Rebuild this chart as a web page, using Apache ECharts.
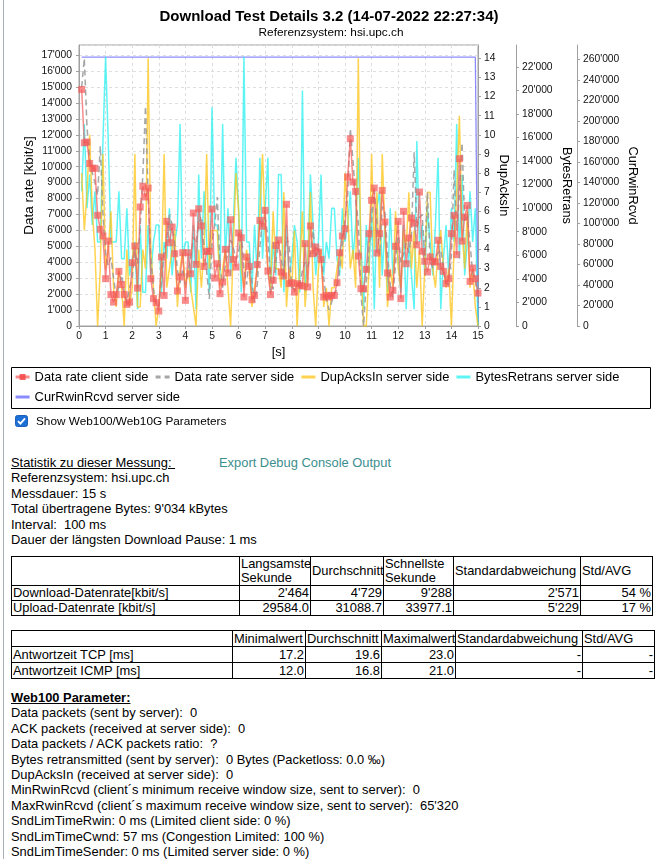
<!DOCTYPE html>
<html><head><meta charset="utf-8">
<script src="https://cdn.jsdelivr.net/npm/echarts@6/dist/echarts.min.js"></script>
<style>
html,body{margin:0;padding:0;background:#fff;}
body{width:662px;height:859px;position:relative;overflow:hidden;font-family:"Liberation Sans",Arial,sans-serif;color:#000;}
#chart{position:absolute;left:0;top:0;width:662px;height:440px;}
#frame{position:absolute;left:3px;top:0;width:1px;height:859px;background:#a9afb5;}
.txt{position:absolute;left:11px;font-size:12.9px;line-height:15.4px;white-space:pre;}
.u{text-decoration:underline;}
.link{position:absolute;left:208px;top:0;color:#3b8e8e;}
#cb{position:absolute;left:15px;top:415px;width:13px;height:12px;}
#cbl{position:absolute;left:36px;top:413px;font-size:11.8px;line-height:16px;white-space:pre;}
table{position:absolute;left:11px;border-collapse:collapse;table-layout:fixed;font-size:12.9px;}
td{border:1px solid #000;padding:0 1px;white-space:nowrap;overflow:hidden;line-height:14px;height:14px;text-align:right;vertical-align:middle;}
td.l{text-align:left;}
tr.h td{text-align:left;}
#t2 td{height:15px;}
</style></head>
<body>
<div id="chart"></div>
<div id="frame"></div>
<svg id="cb" viewBox="0 0 13 12"><rect x="0.5" y="0.5" width="12" height="11" rx="2" fill="#1b6fd6" stroke="#1b5fb8"/><path d="M3 6.2 L5.4 8.6 L10 3.4" stroke="#fff" stroke-width="1.8" fill="none"/></svg>
<div id="cbl">Show Web100/Web10G Parameters</div>

<div class="txt" style="top:455px;"><span class="u">Statistik zu dieser Messung: </span><span class="link">Export Debug Console Output</span>
Referenzsystem: hsi.upc.ch
Messdauer: 15 s
Total übertragene Bytes: 9'034 kBytes
Interval:  100 ms
Dauer der längsten Download Pause: 1 ms</div>

<table style="top:556px;width:642px;">
<colgroup><col style="width:228px"><col style="width:71px"><col style="width:73px"><col style="width:70px"><col style="width:127px"><col style="width:72px"></colgroup>
<tr class="h"><td style="height:28px"></td><td>Langsamste<br>Sekunde</td><td>Durchschnitt</td><td>Schnellste<br>Sekunde</td><td>Standardabweichung</td><td>Std/AVG</td></tr>
<tr><td class="l">Download-Datenrate[kbit/s]</td><td>2'464</td><td>4'729</td><td>9'288</td><td>2'571</td><td>54 %</td></tr>
<tr><td class="l">Upload-Datenrate [kbit/s]</td><td>29584.0</td><td>31088.7</td><td>33977.1</td><td>5'229</td><td>17 %</td></tr>
</table>

<table id="t2" style="top:630px;width:642px;">
<colgroup><col style="width:221px"><col style="width:73px"><col style="width:76px"><col style="width:74px"><col style="width:127px"><col style="width:72px"></colgroup>
<tr class="h"><td></td><td>Minimalwert</td><td>Durchschnitt</td><td>Maximalwert</td><td>Standardabweichung</td><td>Std/AVG</td></tr>
<tr><td class="l">Antwortzeit TCP [ms]</td><td>17.2</td><td>19.6</td><td>23.0</td><td>-</td><td>-</td></tr>
<tr><td class="l">Antwortzeit ICMP [ms]</td><td>12.0</td><td>16.8</td><td>21.0</td><td>-</td><td>-</td></tr>
</table>

<div class="txt" style="top:690px;"><b class="u">Web100 Parameter:</b>
Data packets (sent by server):  0
ACK packets (received at server side):  0
Data packets / ACK packets ratio:  ?
Bytes retransmitted (sent by server):  0 Bytes (Packetloss: 0.0 ‰)
DupAcksIn (received at server side):  0
MinRwinRcvd (client´s minimum receive window size, sent to server):  0
MaxRwinRcvd (client´s maximum receive window size, sent to server):  65'320
SndLimTimeRwin: 0 ms (Limited client side: 0 %)
SndLimTimeCwnd: 57 ms (Congestion Limited: 100 %)
SndLimTimeSender: 0 ms (Limited server side: 0 %)</div>

<script>
const times = [
0.1,0.2,0.3,0.4,0.5,0.6,0.7,0.8,0.9,1.0,
1.1,1.2,1.3,1.4,1.5,1.6,1.7,1.8,1.9,2.0,
2.1,2.2,2.3,2.4,2.5,2.6,2.7,2.8,2.9,3.0,
3.1,3.2,3.3,3.4,3.5,3.6,3.7,3.8,3.9,4.0,
4.1,4.2,4.3,4.4,4.5,4.6,4.7,4.8,4.9,5.0,
5.1,5.2,5.3,5.4,5.5,5.6,5.7,5.8,5.9,6.0,
6.1,6.2,6.3,6.4,6.5,6.6,6.7,6.8,6.9,7.0,
7.1,7.2,7.3,7.4,7.5,7.6,7.7,7.8,7.9,8.0,
8.1,8.2,8.3,8.4,8.5,8.6,8.7,8.8,8.9,9.0,
9.1,9.2,9.3,9.4,9.5,9.6,9.7,9.8,9.9,10.0,
10.1,10.2,10.3,10.4,10.5,10.6,10.7,10.8,10.9,11.0,
11.1,11.2,11.3,11.4,11.5,11.6,11.7,11.8,11.9,12.0,
12.1,12.2,12.3,12.4,12.5,12.6,12.7,12.8,12.9,13.0,
13.1,13.2,13.3,13.4,13.5,13.6,13.7,13.8,13.9,14.0,
14.1,14.2,14.3,14.4,14.5,14.6,14.7,14.8,14.9,15.0];

const rateClient = [
14850,11500,11550,10200,9900,9900,6950,6070,5650,2970,
5330,1970,1500,1970,3430,2600,1970,1360,1500,3970,
5020,2380,7470,8770,8100,8660,2970,1720,1460,940,
4330,1920,6570,5230,6210,4540,2200,3080,4600,1610,
4600,3280,7090,3870,7360,6280,3740,4690,4690,7340,
3010,3910,2030,2760,4810,3330,6670,4180,3700,5840,
5540,1820,4330,3740,1650,1920,3850,6630,6260,7260,
3450,1970,2870,5060,5400,3390,3140,7640,2660,2720,
2130,2660,2550,2510,5170,2450,6280,4540,4960,4640,
4180,1820,1920,1820,1920,1920,2720,4600,5650,6100,
9350,11760,9040,8450,4390,2340,2340,3560,5800,7890,
8660,4580,5800,8510,6530,3330,1820,2240,5000,6570,
1720,7200,3910,5520,6780,6460,5100,8410,4690,4060,
3390,4330,4060,4020,5380,3740,3430,2660,2970,5800,
6950,4480,10500,5330,6840,7570,2800,3640,2970,2070];

const rateServer = [
15000,16800,12500,10500,9600,9000,8200,11300,7000,4500,
3800,4300,3000,1800,2500,3200,2200,1500,2400,3000,
4700,3900,6200,9500,13800,8200,4300,2300,1300,1200,
2800,4600,5500,7000,6400,5200,3500,2700,3600,2600,
3500,4400,5600,5200,6500,6900,5000,3400,1700,5200,
6300,8100,3700,2400,3800,4600,5400,4900,4200,4600,
5900,3600,2600,4300,2800,1500,2600,5000,6700,6800,
5600,2900,2300,4000,5300,4300,3000,5600,5000,2400,
2300,2500,2600,3500,4000,3700,4600,6000,4400,4900,
4400,3000,1700,1000,1500,2000,2300,3600,5000,6700,
8200,12400,10400,8000,6500,2000,0,2800,4800,6500,
8500,6500,4500,7500,7200,4500,2600,1800,3900,6000,
4000,4500,5200,4600,5800,10900,6200,6800,7000,4400,
8400,4100,3600,4300,4600,4800,3700,2700,2600,4500,
9800,6000,8200,11500,6500,6900,5200,3300,2900,1500];

const dupAcksIn = [
8,5,7,10,6,4,0,3,9,3,
4,6,2,1,3,2,0,4,1,2,
9,1,1,4,3,14,4,2,0,1,
3,9,2,3,4,5,1,3,4,2,
3,2,1,0,4,2,4,9,3,5,
5,5,2,3,4,2,0,4,8,6,
3,2,4,3,1,2,3,6,9,5,
3,2,6,3,3,2,7,1,3,2,
5,0,3,6,1,3,7,2,0,3,
4,1,2,0,2,2,3,4,3,8,
6,3,4,2,14,3,0,0,3,9,
4,7,2,9,5,1,3,2,6,3,
2,5,4,7,3,5,2,4,0,3,
7,7,3,2,4,5,3,2,3,0,
4,7,11,5,3,6,2,3,1,0];

const bytesRetrans = [
11424,17136,9996,12852,8568,11424,7140,7140,15708,22848,
15708,7140,7140,7140,11424,5712,5712,9996,4284,5712,
7140,1428,8568,2856,2856,8568,4284,7140,8568,8568,
2856,7140,5712,9996,4284,7140,8568,17136,5712,7140,
7140,2856,8568,1428,12852,5712,11424,7140,2856,18564,
8568,8568,4284,17136,5712,9996,4284,8568,14280,9996,
2856,22848,7140,7140,2856,8568,4284,14280,5712,9996,
14280,2856,7140,4284,12852,12852,2856,8568,4284,5712,
8568,7140,2856,19992,2856,5712,12852,8568,4284,7140,
12852,4284,7140,5712,9996,9996,5712,4284,9996,7140,
8568,11424,5712,8568,14280,7140,1428,8568,4284,9996,
1428,9996,11424,4284,8568,2856,9996,4284,7140,5712,
2856,8568,1428,7140,4284,1428,15708,7140,8568,4284,
9996,7140,4284,8568,14280,1428,5712,8568,4284,9996,
7140,17136,5712,12852,4284,7140,11424,7140,9996,0];

const curRwinRcvd = [
262144,262144,262144,262144,262144,262144,262144,262144,262144,262144,
262144,262144,262144,262144,262144,262144,262144,262144,262144,262144,
262144,262144,262144,262144,262144,262144,262144,262144,262144,262144,
262144,262144,262144,262144,262144,262144,262144,262144,262144,262144,
262144,262144,262144,262144,262144,262144,262144,262144,262144,262144,
262144,262144,262144,262144,262144,262144,262144,262144,262144,262144,
262144,262144,262144,262144,262144,262144,262144,262144,262144,262144,
262144,262144,262144,262144,262144,262144,262144,262144,262144,262144,
262144,262144,262144,262144,262144,262144,262144,262144,262144,262144,
262144,262144,262144,262144,262144,262144,262144,262144,262144,262144,
262144,262144,262144,262144,262144,262144,262144,262144,262144,262144,
262144,262144,262144,262144,262144,262144,262144,262144,262144,262144,
262144,262144,262144,262144,262144,262144,262144,262144,262144,262144,
262144,262144,262144,262144,262144,262144,262144,262144,262144,262144,
262144,262144,262144,262144,262144,262144,262144,262144,262144,0];

const seriesNames = ['Data rate client side','Data rate server side','DupAcksIn server side','BytesRetrans server side','CurRwinRcvd server side'];
const axisNames = ['Data rate [kbit/s]','DupAcksIn','BytesRetrans','CurRwinRcvd'];

const FONT = '"Liberation Sans", Arial, sans-serif';
const pairs = arr => times.map((t, i) => [t, arr[i]]);
const fmt = v => String(Math.round(v)).replace(/\B(?=(\d{3})+(?!\d))/g, "'");
const AX = '#a0a0a0';
const grid = {left:79, right:184, top:45, bottom:114};

const C_RED = 'rgba(245,90,90,0.7)';
const C_GREY = 'rgba(150,150,150,0.85)';
const C_YEL = 'rgba(255,196,20,0.75)';
const C_CYAN = 'rgba(40,240,240,0.75)';
const C_BLUE = 'rgba(110,110,255,0.8)';

function rightAxis(name, max, interval, offset, gap) {
  return {
    type:'value', position:'right', offset:offset, min:0, max:max, interval:interval,
    name:name, nameLocation:'middle', nameRotate:-90, nameGap:gap, nameMoveOverlap:false,
    nameTextStyle:{fontSize:12.8, color:'#000', fontFamily:FONT},
    axisLine:{show:true, lineStyle:{color:AX}},
    axisTick:{show:true, length:3, lineStyle:{color:AX}},
    axisLabel:{fontSize:10.3, color:'#111', margin:6, showMaxLabel:false, formatter:fmt, fontFamily:FONT},
    splitLine:{show:false}
  };
}

// legend drawn as graphic (icon line, optional square, label)
const legendItems = [
  {name:seriesNames[0], x:15.6, y:377, color:C_RED, square:true},
  {name:seriesNames[1], x:155.6, y:377, color:C_GREY, dash:[5,4]},
  {name:seriesNames[2], x:301.4, y:377, color:C_YEL},
  {name:seriesNames[3], x:456.4, y:377, color:C_CYAN},
  {name:seriesNames[4], x:15.6, y:397, color:C_BLUE}
];
const legendGraphics = [];
legendItems.forEach(it => {
  legendGraphics.push({type:'line', shape:{x1:it.x, y1:it.y, x2:it.x+14, y2:it.y},
    style:{stroke:it.color, lineWidth:3, lineDash:it.dash || null}});
  if (it.square) legendGraphics.push({type:'rect', shape:{x:it.x+4, y:it.y-3, width:6, height:6}, style:{fill:'rgba(245,70,70,0.85)'}});
  legendGraphics.push({type:'text', x:it.x+19, y:it.y, style:{text:it.name, font:'12.9px '+FONT, fill:'#000', textVerticalAlign:'middle'}});
});

const chart = echarts.init(document.getElementById('chart'));
chart.setOption({
  animation:false,
  textStyle:{fontFamily:FONT},
  graphic:[
    {type:'text', x:329, y:17, style:{text:'Download Test Details 3.2 (14-07-2022 22:27:34)', font:'bold 15px '+FONT, fill:'#000', textAlign:'center', textVerticalAlign:'middle'}},
    {type:'text', x:331, y:33, style:{text:'Referenzsystem: hsi.upc.ch', font:'11.8px '+FONT, fill:'#000', textAlign:'center', textVerticalAlign:'middle'}},
    {type:'rect', shape:{x:11.5, y:367.5, width:639, height:41}, style:{fill:'none', stroke:'#000', lineWidth:1}}
  ].concat(legendGraphics),
  grid:Object.assign({show:true, borderColor:AX, borderWidth:1, backgroundColor:'#fff'}, grid),
  xAxis:{
    type:'value', min:0, max:15, interval:1,
    name:'[s]', nameLocation:'middle', nameGap:20, nameMoveOverlap:false,
    nameTextStyle:{fontSize:13, color:'#000', fontFamily:FONT},
    axisLine:{lineStyle:{color:AX}},
    axisTick:{length:3, lineStyle:{color:AX}},
    axisLabel:{fontSize:10.3, color:'#111', margin:5, fontFamily:FONT},
    splitLine:{show:true, lineStyle:{color:'#dedede', type:[3,3]}}
  },
  yAxis:[
    {
      type:'value', position:'left', min:0, max:17640, interval:1000,
      name:axisNames[0], nameLocation:'middle', nameGap:43, nameMoveOverlap:false,
      nameTextStyle:{fontSize:13.5, color:'#000', fontFamily:FONT},
      axisLine:{show:true, lineStyle:{color:AX}},
      axisTick:{show:true, length:3, lineStyle:{color:AX}},
      axisLabel:{fontSize:10.3, color:'#111', margin:7, showMaxLabel:false, formatter:fmt, fontFamily:FONT},
      splitLine:{show:true, lineStyle:{color:'#dedede', type:[3,3]}}
    },
    rightAxis(axisNames[1], 14.7, 1, 0, 19),
    rightAxis(axisNames[2], 23850, 2000, 38, 44),
    rightAxis(axisNames[3], 274000, 20000, 99, 49)
  ],
  series:[
    {name:seriesNames[4], type:'line', yAxisIndex:3, data:pairs(curRwinRcvd), symbol:'none',
     lineStyle:{color:C_BLUE, width:1.3}, itemStyle:{color:C_BLUE}, z:2},
    {name:seriesNames[3], type:'line', yAxisIndex:2, data:pairs(bytesRetrans), symbol:'none',
     lineStyle:{color:C_CYAN, width:1.5}, itemStyle:{color:C_CYAN}, z:3},
    {name:seriesNames[2], type:'line', yAxisIndex:1, data:pairs(dupAcksIn), symbol:'none',
     lineStyle:{color:C_YEL, width:1.5}, itemStyle:{color:C_YEL}, z:4},
    {name:seriesNames[1], type:'line', yAxisIndex:0, data:pairs(rateServer), symbol:'none',
     lineStyle:{color:C_GREY, width:1.5, type:[6,4]}, itemStyle:{color:C_GREY}, z:5},
    {name:seriesNames[0], type:'line', yAxisIndex:0, data:pairs(rateClient), symbol:'rect', symbolSize:7, showAllSymbol:true,
     lineStyle:{color:C_RED, width:1.5}, itemStyle:{color:C_RED}, z:6}
  ]
});
</script>
</body></html>
